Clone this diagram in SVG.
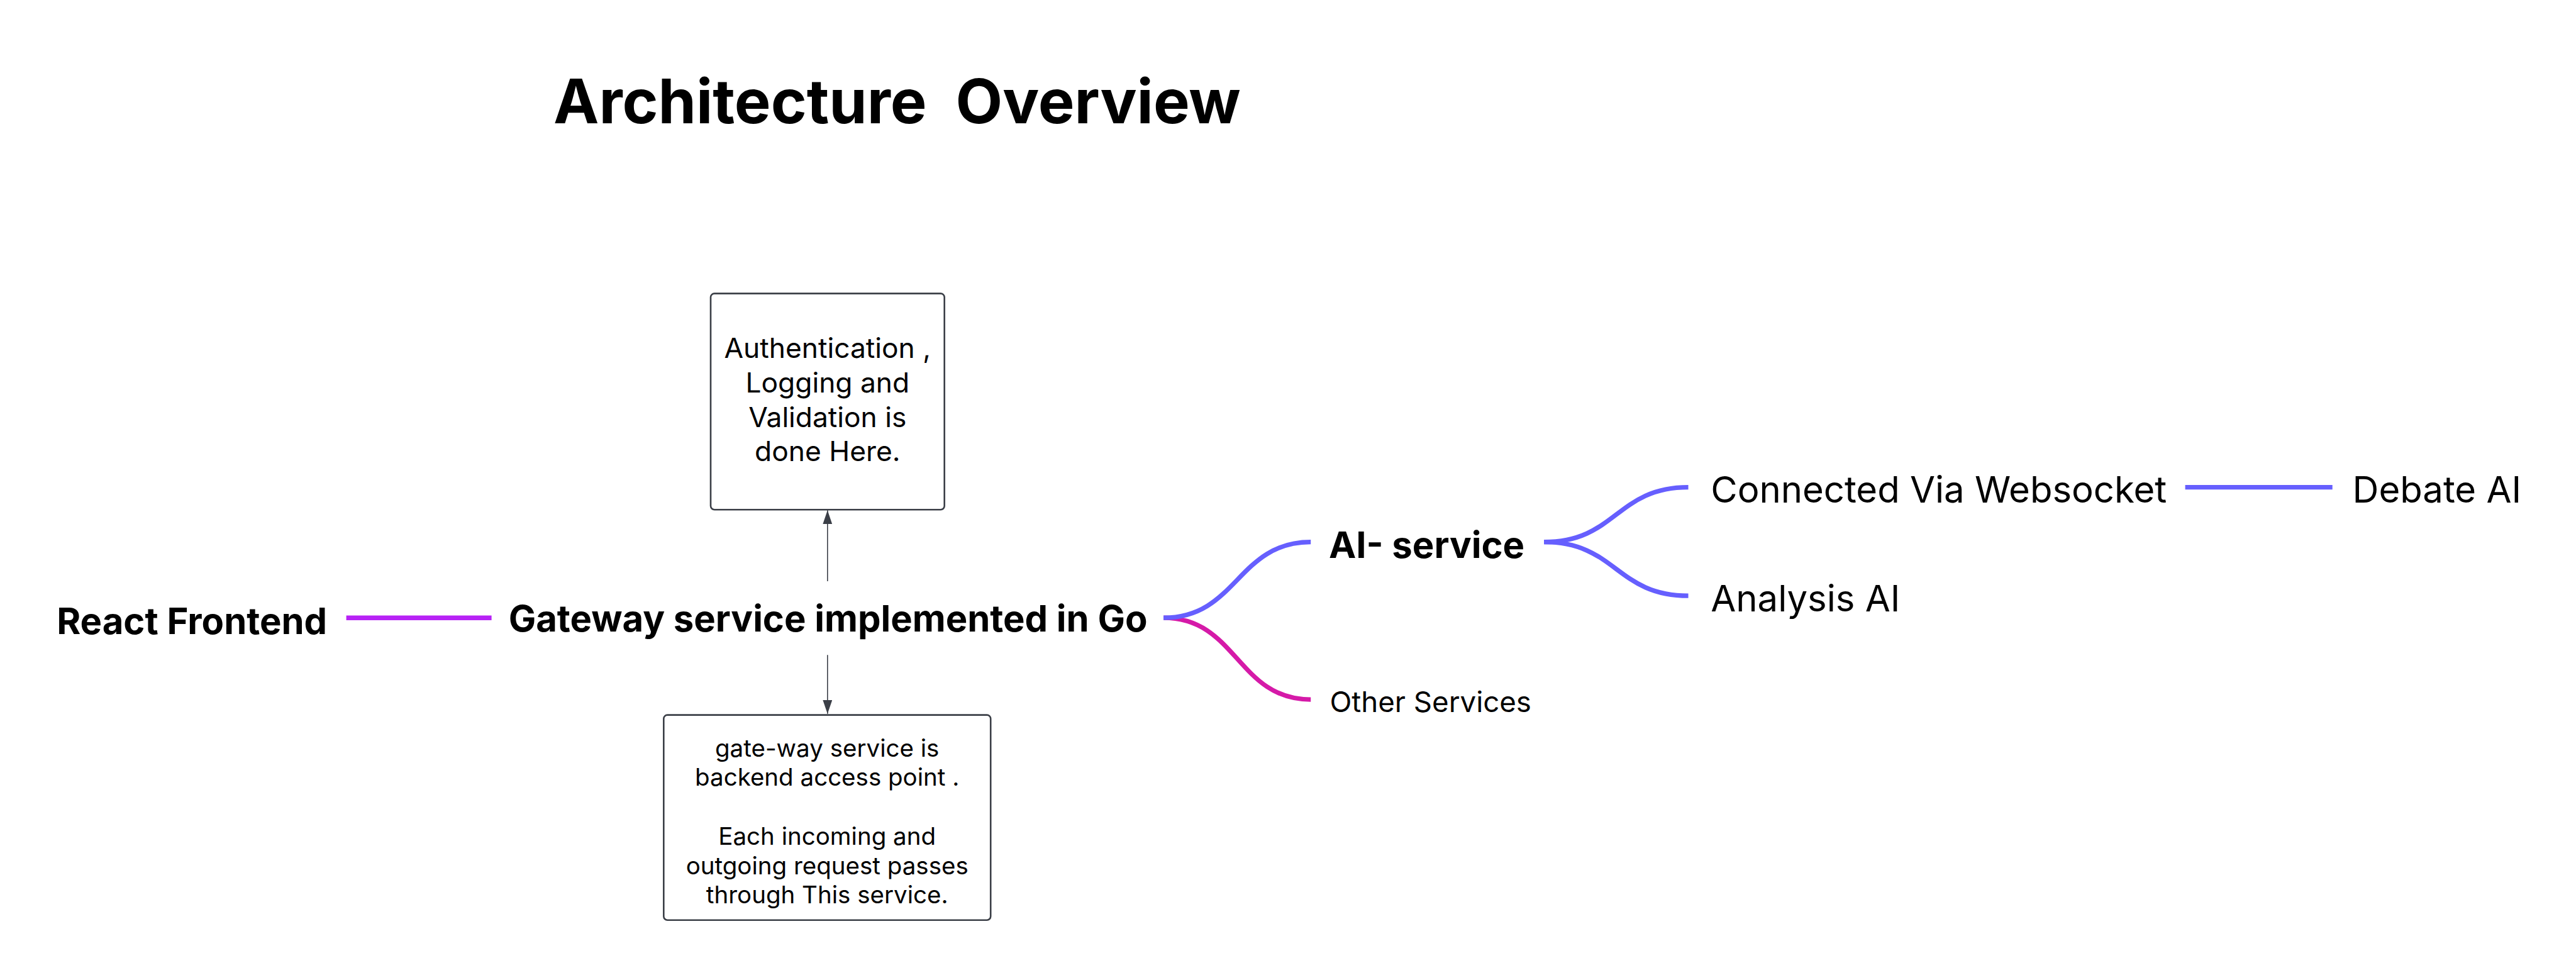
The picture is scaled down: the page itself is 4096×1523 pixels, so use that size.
<svg xmlns="http://www.w3.org/2000/svg" width="4096" height="1523" viewBox="0 0 4096 1523">
<style>
text{font-family:Inter,"Liberation Sans",Arial,sans-serif;fill:#000}
.title{font-size:97px;font-weight:700;white-space:pre}
.bold{font-size:58px;font-weight:700}
.reg{font-size:58px;font-weight:400}
.small{font-size:45.6px;font-weight:400}
.note1{font-size:44.3px;font-weight:400}
.note2{font-size:38.5px;font-weight:400}
.box{fill:#fff;stroke:#3b3f47;stroke-width:2.6}
.arrow{stroke:#3b3f47;stroke-width:1.6;fill:none}
.blue{stroke:#665ffe;stroke-width:7.3;fill:none}
.mag{stroke:#d51aa8;stroke-width:7.3;fill:none}
.purp{stroke:#b722f5;stroke-width:7.6;fill:none}
</style>
<defs>
<marker id="ah" markerUnits="userSpaceOnUse" markerWidth="22" markerHeight="15" refX="22" refY="7.5" orient="auto">
<path d="M0,0 L22,7.5 L0,15 z" fill="#3b3f47"/>
</marker>
</defs>
<rect width="4096" height="1523" fill="#fff"/>
<g id="title"><text class="title" x="880" y="196">Architecture  Overview</text></g>
<g id="connectors">
<line class="purp" x1="550.6" y1="982.2" x2="781.6" y2="982.2"/>
<path class="mag" d="M1850.1,982.2 C1967.2,982.2 1967.2,1112.1 2084.2,1112.1"/>
<path class="blue" d="M1850.1,982.2 C1967.2,982.2 1967.2,861.7 2084.2,861.7"/>
<path class="blue" d="M2455.1,861.7 C2569.8,861.7 2569.8,774.6 2684.5,774.6"/>
<path class="blue" d="M2455.1,861.7 C2569.8,861.7 2569.8,947.2 2684.5,947.2"/>
<line class="blue" x1="3474.6" y1="774.6" x2="3708.7" y2="774.6"/>
<line class="arrow" x1="1315.8" y1="924" x2="1315.8" y2="811.3" marker-end="url(#ah)"/>
<line class="arrow" x1="1315.8" y1="1041.3" x2="1315.8" y2="1134.8" marker-end="url(#ah)"/>
</g>
<g id="react"><text class="bold" x="90.2" y="1008.4">React Frontend</text></g>
<g id="gateway"><text class="bold" x="1316.6" y="1003.7" text-anchor="middle">Gateway service implemented in Go</text></g>
<g id="auth-box">
<rect class="box" x="1130" y="466.6" width="371.7" height="343.7" rx="6"/>
<text class="note1" text-anchor="middle" x="1315.8" y="569.3">Authentication ,</text>
<text class="note1" text-anchor="middle" x="1315.8" y="624">Logging and</text>
<text class="note1" text-anchor="middle" x="1315.8" y="678.7">Validation is</text>
<text class="note1" text-anchor="middle" x="1315.8" y="733.4">done Here.</text>
</g>
<g id="gateway-box">
<rect class="box" x="1055.3" y="1136.6" width="519.9" height="326.2" rx="6"/>
<text class="note2" text-anchor="middle" x="1315.2" y="1203">gate-way service is</text>
<text class="note2" text-anchor="middle" x="1315.2" y="1249">backend access point .</text>
<text class="note2" text-anchor="middle" x="1315.2" y="1343">Each incoming and</text>
<text class="note2" text-anchor="middle" x="1315.2" y="1389.7">outgoing request passes</text>
<text class="note2" text-anchor="middle" x="1315.2" y="1436.4">through This service.</text>
</g>
<g id="ai-service"><text class="bold" x="2112.9" y="887.3">AI- service</text></g>
<g id="other-services"><text class="small" x="2114.5" y="1132.3">Other Services</text></g>
<g id="websocket"><text class="reg" x="2720.3" y="799.4">Connected Via Websocket</text></g>
<g id="analysis-ai"><text class="reg" x="2720.3" y="972.1">Analysis AI</text></g>
<g id="debate-ai"><text class="reg" x="3740.6" y="799.4">Debate AI</text></g>
</svg>
